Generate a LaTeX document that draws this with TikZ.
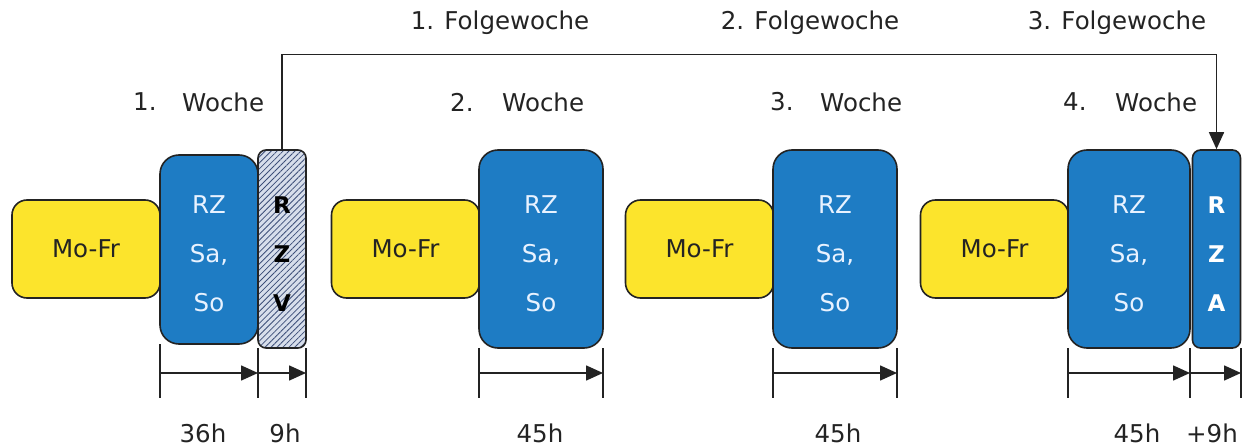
\documentclass[tikz,border=0pt]{standalone}
\usepackage{fontspec}
\setmainfont{DejaVu Sans}
\usetikzlibrary{arrows.meta,patterns.meta}
\definecolor{yel}{RGB}{252,228,44}
\definecolor{blu}{RGB}{30,124,196}
\definecolor{ink}{RGB}{35,35,35}
\definecolor{hatchbg}{RGB}{215,222,235}
\definecolor{hatchfg}{RGB}{60,78,120}
\definecolor{ltxt}{RGB}{232,242,255}
\tikzset{
  base/.style={draw=ink, line width=1.6pt, inner sep=0pt},
  ybox/.style={base, fill=yel, rounded corners=15pt, minimum width=148pt, minimum height=98pt},
  bbox/.style={base, fill=blu, rounded corners=19pt, minimum height=198pt},
  narrow/.style={base, rounded corners=8pt, minimum width=48pt, minimum height=198pt},
  hatched/.style={narrow, preaction={fill=hatchbg},
     pattern={Lines[angle=45,distance=4.2pt,line width=0.8pt]}, pattern color=hatchfg},
  txt/.style={font=\fontsize{24.5}{28}\selectfont, text=ink, inner sep=0pt},
  wtxt/.style={font=\fontsize{24.5}{49}\selectfont, text=ltxt, align=center, inner sep=0pt},
  btxt/.style={font=\fontsize{23}{49}\selectfont\bfseries, align=center, inner sep=0pt},
  conn/.style={draw=ink, line width=1.6pt},
  tip/.style={-{Triangle[length=17pt,width=15pt]}},
}
\begin{document}
\begin{tikzpicture}[x=1pt,y=-1pt]
\useasboundingbox (0,0) rectangle (1253,446);
% ---- block 1
\node[ybox] (y1) at (86,249) {};
\node[txt] (y1t) at (86,249) {Mo-Fr};
\node[bbox, minimum width=98pt, minimum height=189pt] (b1) at (209,249.5) {};
\node[wtxt] (b1t) at (209,254) {RZ\\Sa,\\So};
\node[hatched] (rzv) at (282,249) {};
\node[btxt, text=black] (rzvt) at (282,254) {R\\Z\\V};
% ---- block 2
\node[ybox] (y2) at (405.5,249) {};
\node[txt] (y2t) at (405.5,249) {Mo-Fr};
\node[bbox, minimum width=124pt] (b2) at (541,249) {};
\node[wtxt] (b2t) at (541,254) {RZ\\Sa,\\So};
% ---- block 3
\node[ybox] (y3) at (699.5,249) {};
\node[txt] (y3t) at (699.5,249) {Mo-Fr};
\node[bbox, minimum width=124pt] (b3) at (835,249) {};
\node[wtxt] (b3t) at (835,254) {RZ\\Sa,\\So};
% ---- block 4
\node[ybox] (y4) at (994.5,249) {};
\node[txt] (y4t) at (994.5,249) {Mo-Fr};
\node[bbox, minimum width=122pt] (b4) at (1129,249) {};
\node[wtxt] (b4t) at (1129,254) {RZ\\Sa,\\So};
\node[narrow, fill=blu] (rza) at (1216.5,249) {};
\node[btxt, text=white] (rzat) at (1216.5,254) {R\\Z\\A};
% ---- week labels
\node[txt, anchor=west] (w1n) at (133,102) {1.};
\node[txt, anchor=west] (w1) at (182,102) {Woche};
\node[txt, anchor=west] (w2n) at (450,102) {2.};
\node[txt, anchor=west] (w2) at (502,102) {Woche};
\node[txt, anchor=west] (w3n) at (770,102) {3.};
\node[txt, anchor=west] (w3) at (820,102) {Woche};
\node[txt, anchor=west] (w4n) at (1063,102) {4.};
\node[txt, anchor=west] (w4) at (1115,102) {Woche};
\node[txt] (f1) at (500,23) {1. Folgewoche};
\node[txt] (f2) at (810,23) {2. Folgewoche};
\node[txt] (f3) at (1117,23) {3. Folgewoche};
% ---- carry-over connector
\draw[conn, tip] (rzv.north) -- ++(0,-95) -| (rza.north);
% ---- dimension lines
\foreach \n/\x/\yt in {a/160/344, b/258/348, c/306/348, d/479/348, e/603/348, f/773/348, g/897/348, h/1068/348, i/1190/348, j/1241/348}{
  \coordinate (t\n) at (\x,\yt);
  \coordinate (e\n) at (\x,398);
  \coordinate (m\n) at (\x,373);
  \draw[conn] (t\n) -- (e\n);
}
\draw[conn, tip] (ma) -- (mb);
\draw[conn, tip] (mb) -- (mc);
\draw[conn, tip] (md) -- (me);
\draw[conn, tip] (mf) -- (mg);
\draw[conn, tip] (mh) -- (mi);
\draw[conn, tip] (mi) -- (mj);
% ---- hour labels
\node[txt] (h1) at (203,433) {36h};
\node[txt] (h2) at (285,433) {9h};
\node[txt] (h3) at (540,433) {45h};
\node[txt] (h4) at (838,433) {45h};
\node[txt] (h5) at (1137,433) {45h};
\node[txt] (h6) at (1212,433) {+9h};
\end{tikzpicture}
\end{document}
